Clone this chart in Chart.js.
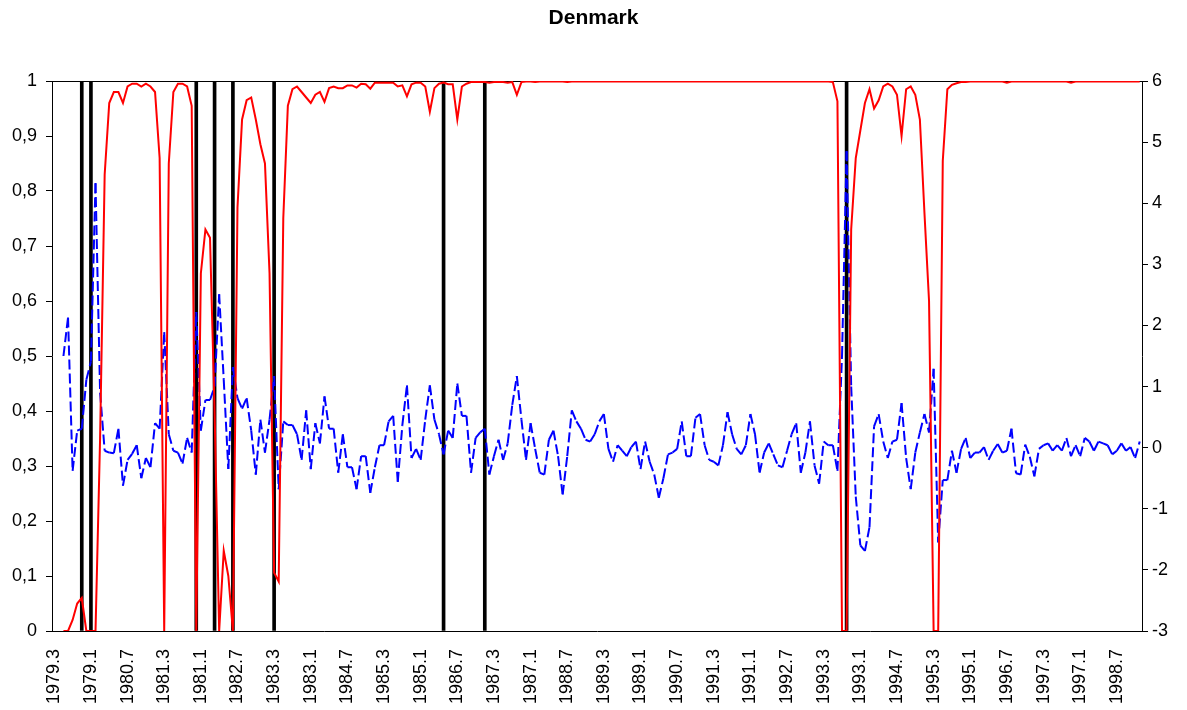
<!DOCTYPE html>
<html>
<head>
<meta charset="utf-8">
<title>Denmark</title>
<script src="https://cdn.jsdelivr.net/npm/chart.js@4.4.1/dist/chart.umd.min.js"></script>
<style>
  html, body { margin: 0; padding: 0; background: #fff; }
  #wrap { width: 1187px; height: 710px; }
</style>
</head>
<body>
<div id="wrap"><canvas id="chart" width="1187" height="710"></canvas></div>
<script>
// monthly sample 1979.3 - 1998.12
const startYear = 1979;
const startMonth = 3;
const monthCount = 238;
const months = Array.from({ length: monthCount }, (_, i) => {
  const m = startMonth - 1 + i;
  return `${startYear + Math.floor(m / 12)}.${(m % 12) + 1}`;
});

// every 8th month is labelled (one decimal, so 1979.11 prints as 1979.1)
const xTickLabels = [
  '1979.3', '1979.1', '1980.7', '1981.3', '1981.1', '1982.7', '1983.3', '1983.1',
  '1984.7', '1985.3', '1985.1', '1986.7', '1987.3', '1987.1', '1988.7', '1989.3',
  '1989.1', '1990.7', '1991.3', '1991.1', '1992.7', '1993.3', '1993.1', '1994.7',
  '1995.3', '1995.1', '1996.7', '1997.3', '1997.1', '1998.7'
];

// regime probability (left axis)
const probability = [
  null, null, 0, 0, 0.02, 0.05, 0.06, 0, 0, 0,
  0.35, 0.83, 0.96, 0.98, 0.98, 0.96, 0.99, 0.995, 0.995, 0.99,
  0.995, 0.99, 0.98, 0.86, 0, 0.85, 0.98, 0.995, 0.995, 0.99,
  0.955, 0, 0.65, 0.73, 0.715, 0.4, 0, 0.146, 0.1, 0,
  0.77, 0.93, 0.965, 0.97, 0.93, 0.885, 0.85, 0.65, 0.106, 0.09,
  0.75, 0.955, 0.985, 0.99, 0.98, 0.97, 0.96, 0.975, 0.98, 0.962,
  0.987, 0.99, 0.987, 0.987, 0.992, 0.992, 0.988, 0.995, 0.994, 0.986,
  0.997, 0.997, 0.997, 0.997, 0.997, 0.99, 0.992, 0.972, 0.994, 0.997,
  0.997, 0.99, 0.944, 0.987, 0.995, 0.997, 0.994, 0.994, 0.93, 0.99,
  0.995, 0.998, 0.998, 0.998, 0.998, 0.997, 0.998, 0.998, 0.998, 0.997,
  0.998, 0.975, 0.998, 0.999, 0.999, 0.998, 0.999, 0.999, 0.999, 0.999,
  0.999, 0.999, 0.998, 0.999, 0.999, 0.999, 0.999, 0.999, 0.999, 0.999,
  0.999, 0.999, 0.999, 0.999, 0.999, 0.999, 0.999, 0.999, 0.999, 0.999,
  0.999, 0.999, 0.999, 0.999, 0.999, 0.999, 0.999, 0.999, 0.999, 0.999,
  0.999, 0.999, 0.999, 0.999, 0.999, 0.999, 0.999, 0.999, 0.999, 0.999,
  0.999, 0.999, 0.999, 0.999, 0.999, 0.999, 0.999, 0.999, 0.999, 0.999,
  0.999, 0.999, 0.999, 0.999, 0.999, 0.999, 0.999, 0.999, 0.999, 0.999,
  0.998, 0.963, 0, 0, 0.73, 0.86, 0.91, 0.96, 0.985, 0.95,
  0.965, 0.99, 0.995, 0.99, 0.975, 0.9, 0.985, 0.99, 0.975, 0.93,
  0.76, 0.6, 0, 0, 0.855, 0.985, 0.993, 0.996, 0.998, 0.998,
  0.999, 0.999, 0.999, 0.999, 0.999, 0.999, 0.999, 0.999, 0.997, 0.999,
  0.999, 0.999, 0.999, 0.999, 0.999, 0.999, 0.999, 0.999, 0.999, 0.999,
  0.999, 0.999, 0.997, 0.999, 0.999, 0.999, 0.999, 0.999, 0.999, 0.999,
  0.999, 0.999, 0.999, 0.999, 0.999, 0.999, 0.999, 0.999
];

// indicator series (right axis)
const indicator = [
  null, null, 1.5, 2.13, -0.38, 0.28, 0.31, 1.11, 1.41, 4.33,
  0.9, -0.05, -0.08, -0.09, 0.31, -0.62, -0.2, -0.1, 0.04, -0.5,
  -0.17, -0.32, 0.4, 0.31, 1.89, 0.22, -0.05, -0.08, -0.26, 0.16,
  -0.08, 2.22, 0.28, 0.78, 0.78, 1.0, 2.51, 1.11, -0.35, 1.32,
  0.81, 0.64, 0.81, 0.28, -0.44, 0.46, -0.08, 0.46, 1.17, -0.68,
  0.43, 0.37, 0.37, 0.22, -0.2, 0.61, -0.35, 0.4, 0.07, 0.84,
  0.31, 0.31, -0.41, 0.22, -0.32, -0.32, -0.68, -0.14, -0.14, -0.74,
  -0.32, 0.04, 0.04, 0.43, 0.52, -0.56, 0.37, 1.02, -0.17, -0.02,
  -0.2, 0.46, 1.02, 0.46, 0.22, -0.11, 0.28, 0.16, 1.05, 0.52,
  0.52, -0.41, 0.16, 0.25, 0.31, -0.44, -0.14, 0.13, -0.2, 0.07,
  0.7, 1.17, 0.46, -0.2, 0.4, -0.02, -0.41, -0.44, 0.13, 0.28,
  -0.14, -0.77, -0.14, 0.61, 0.43, 0.31, 0.13, 0.1, 0.22, 0.43,
  0.55, -0.02, -0.23, 0.04, -0.05, -0.14, 0.01, 0.1, -0.35, 0.1,
  -0.23, -0.44, -0.82, -0.5, -0.11, -0.08, -0.02, 0.43, -0.14, -0.14,
  0.49, 0.55, 0.04, -0.2, -0.23, -0.29, 0.04, 0.58, 0.22, -0.02,
  -0.11, 0.04, 0.55, 0.22, -0.41, -0.08, 0.07, -0.11, -0.29, -0.32,
  -0.05, 0.22, 0.4, -0.41, -0.08, 0.43, -0.29, -0.59, 0.1, 0.04,
  0.04, -0.38, 1.5, 4.85, 1.0, -0.8, -1.6, -1.69, -1.3, 0.35,
  0.55, 0.1, -0.17, 0.1, 0.13, 0.73, -0.17, -0.68, -0.08, 0.25,
  0.55, 0.25, 1.29, -1.55, -0.53, -0.53, -0.05, -0.41, -0.02, 0.16,
  -0.17, -0.08, -0.08, 0.01, -0.2, -0.05, 0.06, -0.08, -0.05, 0.31,
  -0.42, -0.44, 0.05, -0.15, -0.47, -0.02, 0.04, 0.07, -0.05, 0.04,
  -0.05, 0.16, -0.14, 0.04, -0.14, 0.16, 0.1, -0.05, 0.1, 0.07,
  0.04, -0.11, -0.05, 0.07, -0.05, 0.01, -0.17, 0.1
];

// dated turning points, drawn as full-height black rules
const breakMonths = ['1979.9', '1979.11', '1981.10', '1982.2', '1982.6', '1983.3', '1986.4', '1987.1', '1993.8'];
const breakHeight = 1;

const FONT = "'Liberation Sans', Arial, sans-serif";
const commaNum = v => String(+v.toFixed(1)).replace('.', ',');

new Chart(document.getElementById('chart'), {
  data: {
    labels: months,
    datasets: [
      {
        type: 'line',
        label: 'Probability',
        data: probability,
        yAxisID: 'y',
        borderColor: '#ff0000',
        borderWidth: 2,
        pointRadius: 0,
        tension: 0,
        order: 1
      },
      {
        type: 'line',
        label: 'Indicator',
        data: indicator,
        yAxisID: 'y1',
        borderColor: '#0000ff',
        borderWidth: 2,
        borderDash: [10, 4],
        pointRadius: 0,
        tension: 0,
        // split every segment so the dash pattern restarts at each point
        segment: { borderDashOffset: c => (c.p0DataIndex % 2 ? 0.01 : 0) },
        order: 2
      },
      {
        type: 'bar',
        label: 'Breaks',
        data: breakMonths.map(m => ({ x: m, y: breakHeight })),
        yAxisID: 'y',
        backgroundColor: '#000',
        barThickness: 3,
        order: 3
      }
    ]
  },
  options: {
    responsive: false,
    animation: false,
    layout: { padding: 0 },
    plugins: {
      legend: { display: false },
      tooltip: { enabled: false },
      title: {
        display: true,
        text: 'Denmark',
        color: '#000',
        font: { family: FONT, size: 21, weight: 'bold' },
        padding: { top: 6, bottom: 2 }
      }
    },
    scales: {
      x: {
        type: 'category',
        position: 'bottom',
        offset: true,
        grid: { display: false },
        border: { color: '#000', width: 1 },
        ticks: {
          autoSkip: false,
          maxRotation: 90,
          minRotation: 90,
          padding: 10,
          color: '#000',
          font: { family: FONT, size: 18 },
          callback: (v, i) => (i % 8 === 0 ? xTickLabels[i / 8] : '')
        },
        afterFit: s => { s.height = 79; }
      },
      xTop: {
        type: 'category',
        position: 'top',
        offset: true,
        grid: { display: false },
        border: { color: '#000', width: 1 },
        ticks: { display: false },
        afterFit: s => { s.height = 47.8; }
      },
      y: {
        position: 'left',
        min: 0,
        max: 1,
        grid: { display: true, drawOnChartArea: false, drawTicks: true, tickLength: 6, color: '#000' },
        border: { color: '#000', width: 1 },
        ticks: {
          stepSize: 0.1,
          padding: 9,
          color: '#000',
          font: { family: FONT, size: 18 },
          callback: v => commaNum(v)
        },
        afterFit: s => { s.width = 52; }
      },
      y1: {
        position: 'right',
        min: -3,
        max: 6,
        grid: { display: true, drawOnChartArea: false, drawTicks: true, tickLength: 6, color: '#000' },
        border: { color: '#000', width: 1 },
        ticks: {
          stepSize: 1,
          padding: 4,
          color: '#000',
          font: { family: FONT, size: 18 }
        },
        afterFit: s => { s.width = 45; }
      }
    }
  }
});
</script>
</body>
</html>
